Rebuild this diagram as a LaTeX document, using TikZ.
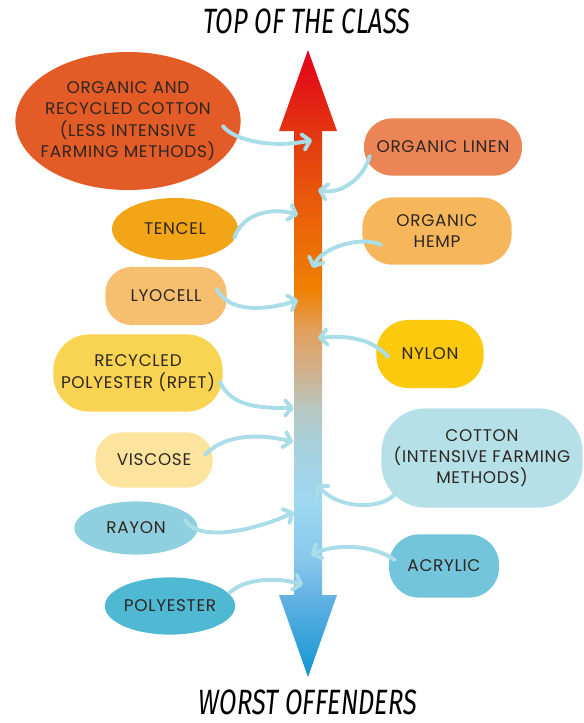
\documentclass[tikz,border=0pt]{standalone}
\usepackage{fontspec}
\setmainfont{Poppins}[LetterSpace=4]
\newfontfamily\handfont[FakeStretch=0.72,FakeSlant=0.1]{Fira Sans}
\usetikzlibrary{arrows.meta, shapes.geometric, calc}
\definecolor{cInk}{HTML}{2E2622}
\definecolor{cLink}{HTML}{A9DDE7}
\definecolor{cOrgCot}{HTML}{E35B27}
\definecolor{cLinen}{HTML}{EC8556}
\definecolor{cTencel}{HTML}{F2A516}
\definecolor{cHemp}{HTML}{F6B75C}
\definecolor{cLyocell}{HTML}{F5BF6F}
\definecolor{cNylon}{HTML}{FCC90C}
\definecolor{cRpet}{HTML}{F9D452}
\definecolor{cViscose}{HTML}{FCE49E}
\definecolor{cCotton}{HTML}{B5E0E7}
\definecolor{cRayon}{HTML}{8FCFE0}
\definecolor{cAcrylic}{HTML}{72C5DA}
\definecolor{cPolyester}{HTML}{4FB8D2}
% colours down the bar
\definecolor{sA}{HTML}{E3001B}
\definecolor{sB}{HTML}{E33B10}
\definecolor{sC}{HTML}{E95A0B}
\definecolor{sD}{HTML}{EF8000}
\definecolor{sE}{HTML}{E2A05E}
\definecolor{sF}{HTML}{D3AE87}
\definecolor{sG}{HTML}{B6C8C2}
\definecolor{sH}{HTML}{A8D0DC}
\definecolor{sI}{HTML}{9ED8F0}
\definecolor{sJ}{HTML}{88C8EC}
\definecolor{sK}{HTML}{5EB0E2}
\definecolor{sL}{HTML}{1296D3}
\pgfdeclareverticalshading{barshade}{100bp}{color(0bp)=(sL); color(25bp)=(sL); color(31.1bp)=(sK); color(34.3bp)=(sJ); color(39.1bp)=(sI); color(43.7bp)=(sH); color(46.3bp)=(sG); color(49.7bp)=(sF); color(52.7bp)=(sE); color(55.9bp)=(sD); color(63bp)=(sC); color(67.8bp)=(sB); color(75bp)=(sA); color(100bp)=(sA)}

\begin{document}
\begin{tikzpicture}[
      x=0.025cm, y=-0.025cm,
      blob/.style={ellipse, inner sep=0pt, align=center, text=cInk, font=\fontsize{12}{15.2}\selectfont},
      softblob/.style={blob, rectangle, rounded corners=#1},
      softblob/.default=0.6cm,
      link/.style={cLink, line width=2.8pt, line cap=round, -{Straight Barb[length=5pt, width=11pt, round]}},
      heading/.style={font=\handfont\fontsize{25}{27}\selectfont, text=black, inner sep=0pt}
    ]
      \useasboundingbox (0,0) rectangle (584,723);

      \node[heading] (top) at (306,21) {TOP OF THE CLASS};
      \node[heading] (bottom) at (307,702) {WORST OFFENDERS};

      % the scale
      \shade[shading=barshade] (308,50) -- (337,131) -- (322,131) -- (322,595) -- (337,595)
        -- (308,677) -- (279,595) -- (294,595) -- (294,131) -- (279,131) -- cycle;

      \node[blob, fill=cOrgCot, minimum width=5.63cm, minimum height=3.45cm, inner xsep=-14pt] (orgcot) at (128,121)
        {ORGANIC AND\\RECYCLED COTTON\\(LESS INTENSIVE\\FARMING METHODS)};
      \node[softblob=0.7cm, fill=cLinen, minimum width=3.95cm, minimum height=1.43cm] (linen) at (443,147) {ORGANIC LINEN};
      \node[blob, fill=cTencel, minimum width=3.15cm, minimum height=1.55cm] (tencel) at (175,229) {TENCEL};
      \node[softblob=0.75cm, fill=cHemp, minimum width=3.73cm, minimum height=1.68cm] (hemp) at (437,231) {ORGANIC\\HEMP};
      \node[softblob=0.65cm, fill=cLyocell, minimum width=3.03cm, minimum height=1.45cm] (lyocell) at (166,296) {LYOCELL};
      \node[softblob=0.8cm, fill=cNylon, minimum width=2.68cm, minimum height=1.70cm] (nylon) at (430,354) {NYLON};
      \node[softblob=0.9cm, fill=cRpet, minimum width=4.23cm, minimum height=1.93cm] (rpet) at (138,373) {RECYCLED\\POLYESTER (RPET)};
      \node[softblob=0.65cm, fill=cViscose, minimum width=2.93cm, minimum height=1.38cm] (viscose) at (154,460) {VISCOSE};
      \node[softblob=1.1cm, fill=cCotton, minimum width=5.03cm, minimum height=2.48cm] (cotton) at (482,458)
        {COTTON\\(INTENSIVE FARMING\\METHODS)};
      \node[blob, fill=cRayon, minimum width=3.08cm, minimum height=1.33cm] (rayon) at (136,528) {RAYON};
      \node[softblob=0.75cm, fill=cAcrylic, minimum width=2.75cm, minimum height=1.58cm] (acrylic) at (444,566) {ACRYLIC};
      \node[blob, fill=cPolyester, minimum width=3.18cm, minimum height=1.43cm] (polyester) at (170,606) {POLYESTER};

      % where the links meet the bar
      \coordinate (at-orgcot) at (312,140);
      \coordinate (at-linen) at (318,190);
      \coordinate (at-tencel) at (298,215);
      \coordinate (at-hemp) at (313,268);
      \coordinate (at-lyocell) at (298,300);
      \coordinate (at-nylon) at (318,338);
      \coordinate (at-rpet) at (294,408);
      \coordinate (at-viscose) at (293,442);
      \coordinate (at-cotton) at (317,484);
      \coordinate (at-rayon) at (294,512);
      \coordinate (at-acrylic) at (311,555);
      \coordinate (at-polyester) at (303,585);

      \draw[link] ([shift={(-18,5)}]orgcot.east) .. controls +(12,16) and +(-35,8) .. (at-orgcot);
      \draw[link] ([shift={(6,9)}]linen.west) .. controls +(-5,20) and +(25,5) .. (at-linen);
      \draw[link] ([shift={(-4,9)}]tencel.east) .. controls +(8,-25) and +(-25,-8) .. (at-tencel);
      \draw[link] ([shift={(19,14)}]hemp.west) .. controls +(-20,-10) and +(8,-20) .. (at-hemp);
      \draw[link] ([shift={(-10,-7)}]lyocell.east) .. controls +(12,25) and +(-30,10) .. (at-lyocell);
      \draw[link] ([shift={(12,3)}]nylon.west) .. controls +(-15,-18) and +(30,-3) .. (at-nylon);
      \draw[link] ([shift={(-3,9)}]rpet.east) .. controls +(12,25) and +(-35,0) .. (at-rpet);
      \draw[link] ([shift={(-8,-5)}]viscose.east) .. controls +(20,-22) and +(-30,-8) .. (at-viscose);
      \draw[link] ([shift={(13,37)}]cotton.west) .. controls +(-15,15) and +(20,25) .. (at-cotton);
      \draw[link] ([shift={(-13,-8)}]rayon.east) .. controls +(15,25) and +(-30,15) .. (at-rayon);
      \draw[link] ([shift={(6,-6)}]acrylic.west) .. controls +(-20,-15) and +(25,-12) .. (at-acrylic);
      \draw[link] ([shift={(-6,-13)}]polyester.east) .. controls +(15,-15) and +(-25,-8) .. (at-polyester);
    \end{tikzpicture}
\end{document}
